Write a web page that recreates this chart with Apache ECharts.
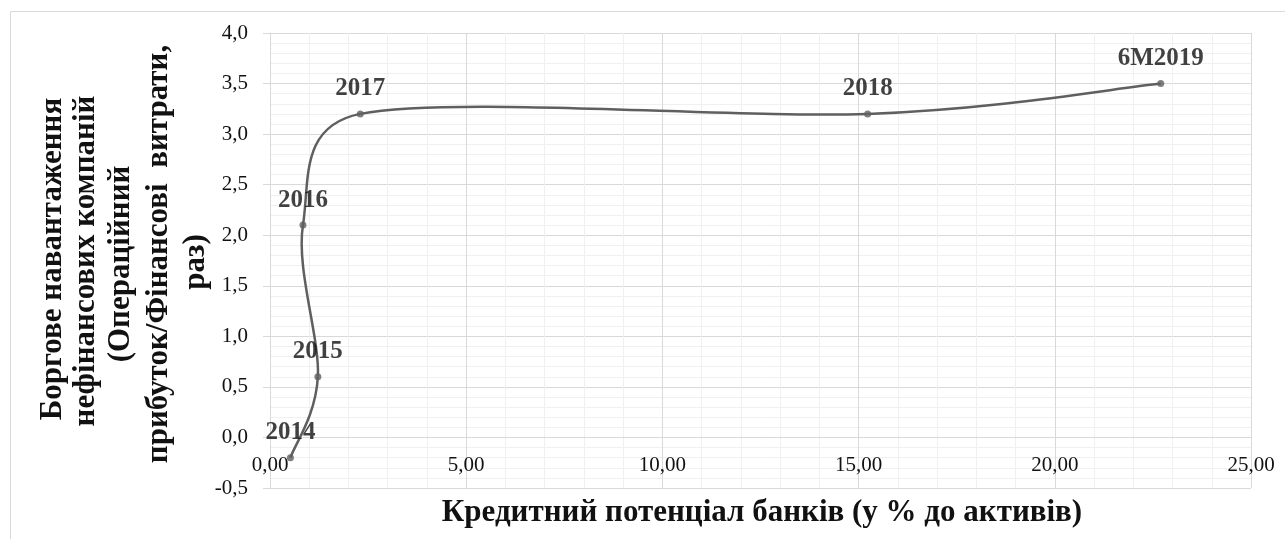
<!DOCTYPE html>
<html>
<head>
<meta charset="utf-8">
<script src="https://cdn.jsdelivr.net/npm/echarts@6/dist/echarts.min.js"></script>
<style>html,body{margin:0;padding:0;background:#fff;}#c{width:1285px;height:539px;}</style>
</head>
<body>
<div id="c"></div>
<script>
var periods = ['2014', '2015', '2016', '2017', '2018', '6M2019'];
var creditPotential = [0.52, 1.22, 0.84, 2.30, 15.23, 22.70];
var debtBurden = [-0.2, 0.6, 2.1, 3.2, 3.2, 3.5];
var xTitle = 'Кредитний потенціал банків (у % до активів)';
var yTitleLines = ['Боргове навантаження', 'нефінансових компаній', '(Операційний', 'прибуток/Фінансові  витрати,', 'раз)'];

var serif = '"Liberation Serif", "DejaVu Serif", serif';
var lineColor = '#5f5f5f';
var n = periods.length;
var points = periods.map(function (p, i) { return { name: p, value: [creditPotential[i], debtBurden[i]] }; });

// layout of the rotated y-title lines (centres in px)
var yTitleLayout = [[53, 259], [86, 261], [121, 264], [159, 254], [196, 262]];

var chart = echarts.init(document.getElementById('c'));

function renderSegment(params, api) {
  var i = params.dataIndex;
  if (i >= n - 1) return null;
  function P(k) {
    k = Math.max(0, Math.min(n - 1, k));
    return api.coord([creditPotential[k], debtBurden[k]]);
  }
  var p0 = P(i - 1), p1 = P(i), p2 = P(i + 1), p3 = P(i + 2);
  var seg = Math.hypot(p2[0] - p1[0], p2[1] - p1[1]);
  function off(a, b) {
    var dx = (b[0] - a[0]) / 6, dy = (b[1] - a[1]) / 6;
    var len = Math.hypot(dx, dy), cap = seg / 2;
    if (len > cap && len > 0) { dx *= cap / len; dy *= cap / len; }
    return [dx, dy];
  }
  var o1 = off(p0, p2), o2 = off(p1, p3);
  return {
    type: 'bezierCurve',
    shape: {
      x1: p1[0], y1: p1[1], x2: p2[0], y2: p2[1],
      cpx1: p1[0] + o1[0], cpy1: p1[1] + o1[1],
      cpx2: p2[0] - o2[0], cpy2: p2[1] - o2[1]
    },
    style: { stroke: lineColor, lineWidth: 2.5, fill: null }
  };
}

var graphics = [
  { type: 'rect', shape: { x: 10.5, y: 11.5, width: 1300, height: 560 },
    style: { fill: null, stroke: '#d9d9d9', lineWidth: 1 }, silent: true, z: -1 },
  { type: 'text', x: 762, y: 513,
    style: { text: xTitle, font: 'bold 31px ' + serif, fill: '#111', textAlign: 'center', textVerticalAlign: 'middle' } }
];
yTitleLines.forEach(function (line, i) {
  graphics.push({ type: 'text', x: yTitleLayout[i][0], y: yTitleLayout[i][1], rotation: Math.PI / 2,
    style: { text: line, font: 'bold 31px ' + serif, fill: '#111', textAlign: 'center', textVerticalAlign: 'middle' } });
});

chart.setOption({
  animation: false,
  backgroundColor: '#fff',
  grid: { left: 270, right: 34, top: 33, bottom: 51, containLabel: false },
  xAxis: {
    type: 'value', min: 0, max: 25, interval: 5,
    offset: -455 * 0.5 / 4.5,
    axisLine: { onZero: false, lineStyle: { color: '#d9d9d9', width: 1 } },
    axisTick: { show: false },
    axisLabel: { margin: 18, color: '#111', fontFamily: serif, fontSize: 21,
      formatter: function (v) { return v.toFixed(2).replace('.', ','); } },
    splitLine: { show: true, lineStyle: { color: '#d9d9d9', width: 1 } },
    minorTick: { show: false, splitNumber: 5 },
    minorSplitLine: { show: true, lineStyle: { color: '#f0f0f0', width: 1 } }
  },
  yAxis: {
    type: 'value', min: -0.5, max: 4, interval: 0.5,
    axisLine: { show: true, onZero: false, lineStyle: { color: '#d9d9d9', width: 1 } },
    axisTick: { show: true, length: 7, lineStyle: { color: '#d9d9d9' } },
    axisLabel: { margin: 22, color: '#111', fontFamily: serif, fontSize: 21,
      formatter: function (v) { return v.toFixed(1).replace('.', ','); } },
    splitLine: { show: true, lineStyle: { color: '#d9d9d9', width: 1 } },
    minorTick: { show: false, splitNumber: 5 },
    minorSplitLine: { show: true, lineStyle: { color: '#f0f0f0', width: 1 } }
  },
  series: [{
    type: 'custom',
    data: points,
    renderItem: renderSegment,
    clip: false,
    z: 2
  }, {
    type: 'scatter',
    data: points,
    symbol: 'circle',
    symbolSize: 7,
    itemStyle: { color: lineColor },
    z: 3,
    label: { show: true, position: 'top', distance: 9, formatter: '{b}',
      fontFamily: serif, fontWeight: 'bold', fontSize: 25, color: '#111' }
  }],
  graphic: graphics
});
</script>
</body>
</html>
